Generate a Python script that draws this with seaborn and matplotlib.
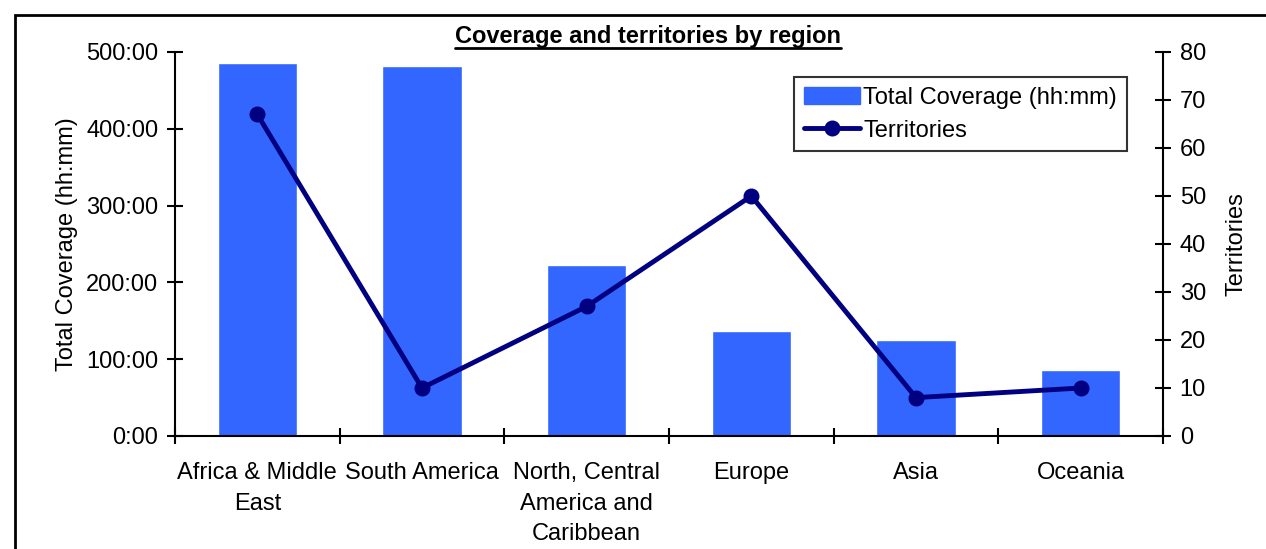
import matplotlib
matplotlib.use("Agg")
import matplotlib.pyplot as plt
from matplotlib.patches import Rectangle
from matplotlib.lines import Line2D
from matplotlib.ticker import FuncFormatter, FixedLocator
import seaborn as sns
import pandas as pd
import numpy as np

# Data
regions = ["Africa & Middle\nEast", "South America", "North, Central\nAmerica and\nCaribbean",
           "Europe", "Asia", "Oceania"]
coverage_hours = [485.7, 481.8, 222.7, 136.7, 125.0, 86.0]
territories = [67, 10, 27, 50, 8, 10]

sns.set_theme(style="white")
plt.rcParams["font.family"] = ["Liberation Sans", "DejaVu Sans"]
plt.rcParams["font.size"] = 17
plt.rcParams["text.color"] = "black"
plt.rcParams["axes.labelcolor"] = "black"
plt.rcParams["xtick.color"] = "black"
plt.rcParams["ytick.color"] = "black"

FS = 17
BAR_COLOR = "#3366FF"
LINE_COLOR = "#000080"

df = pd.DataFrame({"region": regions, "coverage": coverage_hours, "territories": territories})

fig = plt.figure(figsize=(12.66, 5.49), dpi=100)
ax = fig.add_axes([175 / 1266, 1 - 436 / 549, (1163 - 175) / 1266, (436 - 52) / 549])

sns.barplot(data=df, x="region", y="coverage", color=BAR_COLOR, width=0.48,
            saturation=1, ax=ax, zorder=2)
ax.set_xlim(-0.5, len(regions) - 0.5)
ax.set_ylim(0, 500)
ax.set_yticks(np.arange(0, 501, 100))
ax.yaxis.set_major_formatter(FuncFormatter(lambda v, p: f"{int(v)}:{int(round((v % 1) * 60)):02d}"))
ax.set_xlabel("")
ax.set_ylabel("Total Coverage (hh:mm)", fontsize=FS, labelpad=6)

ax2 = ax.twinx()
ax2.plot(np.arange(len(regions)), df["territories"], color=LINE_COLOR, lw=3.5,
         marker="o", markersize=10.5, zorder=3)
ax2.set_ylim(0, 80)
ax2.set_yticks(np.arange(0, 81, 10))
ax2.set_ylabel("Territories", fontsize=FS, labelpad=14)

# Axis styling
for a in (ax, ax2):
    a.spines["top"].set_visible(False)
    for s in ("left", "right", "bottom"):
        a.spines[s].set_color("black")
        a.spines[s].set_linewidth(1.5)
ax.spines["right"].set_visible(False)
ax2.spines["left"].set_visible(False)
ax2.spines["bottom"].set_visible(False)

ax.tick_params(axis="y", direction="inout", length=12, width=1.5, color="black",
               labelsize=FS, pad=6, left=True)
ax2.tick_params(axis="y", direction="inout", length=12, width=1.5, color="black",
                labelsize=FS, pad=6, right=True)

# Category boundary ticks on the x axis
ax.xaxis.set_minor_locator(FixedLocator(np.arange(-0.5, len(regions), 1.0)))
ax.tick_params(axis="x", which="minor", direction="inout", length=12, width=1.5,
               color="black", bottom=True)
ax.tick_params(axis="x", which="major", length=0, pad=19, labelsize=FS)
for lbl in ax.get_xticklabels():
    lbl.set_linespacing(1.48)
    lbl.set_verticalalignment("top")

ax.patch.set_alpha(0)
ax2.patch.set_alpha(0)

# Legend
handles = [Rectangle((0, 0), 1, 1, color=BAR_COLOR),
           Line2D([], [], color=LINE_COLOR, lw=3.5, marker="o", markersize=10.5)]
leg = fig.legend(handles, ["Total Coverage (hh:mm)", "Territories"],
                 loc="upper right", bbox_to_anchor=(1127 / 1266, 1 - 77 / 549),
                 bbox_transform=fig.transFigure, borderaxespad=0, fancybox=False,
                 frameon=True, edgecolor="black", fontsize=FS, handlelength=2.4,
                 handleheight=0.7, handletextpad=0.12, borderpad=0.42, labelspacing=0.45)
leg.get_frame().set_linewidth(1.5)

# Title with underline
title = fig.text(648 / 1266, 1 - 36 / 549, "Coverage and territories by region",
                 ha="center", va="center", fontsize=FS, fontweight="bold")
fig.canvas.draw()
bb = title.get_window_extent().transformed(fig.transFigure.inverted())
fig.add_artist(Line2D([bb.x0, bb.x1], [bb.y0 - 0.001, bb.y0 - 0.001], color="black",
                      lw=2, transform=fig.transFigure))

# Outer chart border
fig.add_artist(Rectangle((15 / 1266, -0.5), 2, 0.5 + (1 - 15 / 549), fill=False,
                         edgecolor="black", lw=2, transform=fig.transFigure))

fig.savefig("out.png", dpi=100, facecolor="white")
